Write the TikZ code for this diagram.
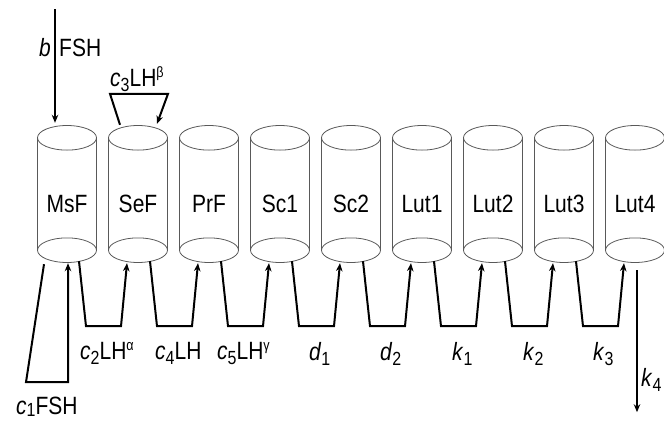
\documentclass[tikz,border=0pt]{standalone}
\usepackage{fontspec}
\setmainfont{Liberation Sans}[FakeStretch=0.84]
\usetikzlibrary{arrows.meta,calc}
\newcommand\mysub[1]{\raisebox{-5.5pt}{\fontsize{19}{19}\selectfont #1}}
\newcommand\mysup[1]{\raisebox{8.5pt}{\fontsize{15}{15}\selectfont #1}}
\tikzset{
  cylbody/.style={rectangle,minimum width=59pt,minimum height=112pt,inner sep=0pt},
  cylline/.style={draw=black!65,line width=0.8pt},
  conn/.style={line width=2pt,line join=miter},
  arr/.style={conn,-{Stealth[length=8pt,width=6.5pt]}},
  lbl/.style={inner sep=0pt,anchor=base west},
}
\begin{document}
\begin{tikzpicture}[x=1pt,y=-1pt,font=\fontsize{25}{29}\selectfont]
\useasboundingbox (0,0) rectangle (664,421);
\foreach \n/\t [count=\i from 0] in {msf/MsF,sef/SeF,prf/PrF,sca/Sc1,scb/Sc2,lta/Lut1,ltb/Lut2,ltc/Lut3,ltd/Lut4}{
  \pgfmathsetmacro\cx{67+71*\i}
  \node[cylbody] (\n) at (\cx,194) {};
  \draw[cylline] (\n.north west) -- (\n.south west) (\n.north east) -- (\n.south east);
  \draw[cylline] (\n.north) ellipse [x radius=29.5pt,y radius=12.3pt];
  \draw[cylline] (\n.south) ellipse [x radius=29.5pt,y radius=12.3pt];
  \node[inner sep=0pt,anchor=base] (\n-t) at (\cx,212) {\t};
}
% b FSH
\coordinate (bstart) at (55,9);
\draw[arr] (bstart) -- ($(msf.north)+(-12,-15)$);
\node[inner sep=0pt,anchor=base east] (lb) at (51,56) {\textit{b}};
\node[lbl] (lfsh) at (59,56) {FSH};
% c3 LH beta
\draw[arr] ($(sef.north)+(-18,-13)$) -- ($(sef.north)+(-28,-44)$) -- ($(sef.north)+(30,-44)$) -- ($(sef.north)+(19,-14)$);
\node[lbl] (lc3) at (110,86) {\textit{c}\mysub{3}LH\mysup{β}};
% c1 FSH
\draw[arr] ($(msf.south)+(-23,14)$) -- ($(msf.south)+(-41,132)$) -- ($(msf.south)+(1,132)$) -- ($(msf.south)+(1,13)$);
\node[lbl] (lc1) at (16,414) {\textit{c}\raisebox{-2.5pt}{\fontsize{19}{19}\selectfont 1}FSH};
% gap loops
\foreach \a/\b in {msf/sef,sef/prf,prf/sca,sca/scb,scb/lta,lta/ltb,ltb/ltc,ltc/ltd}{
  \draw[arr] ($(\a.south)+(12,11)$) -- ($(\a.south)+(19,76)$) -- ($(\b.south)+(-17,76)$) -- ($(\b.south)+(-11,13)$);
}
\node[lbl] (lc2) at (80,359) {\textit{c}\mysub{2}LH\mysup{α}};
\node[lbl] (lc4) at (155,359) {\textit{c}\mysub{4}LH};
\node[lbl] (lc5) at (217,359) {\textit{c}\mysub{5}LH\mysup{γ}};
\node[lbl] (ld1) at (309,360) {\textit{d}\mysub{1}};
\node[lbl] (ld2) at (380,360) {\textit{d}\mysub{2}};
\node[lbl] (lk1) at (452,360) {\textit{k}\mysub{1}};
\node[lbl] (lk2) at (523,360) {\textit{k}\mysub{2}};
\node[lbl] (lk3) at (593,360) {\textit{k}\mysub{3}};
% k4
\draw[arr] ($(ltd.south)+(2,20)$) -- ($(ltd.south)+(2,162)$);
\node[lbl] (lk4) at (641,386) {\textit{k}\mysub{4}};
\end{tikzpicture}
\end{document}
